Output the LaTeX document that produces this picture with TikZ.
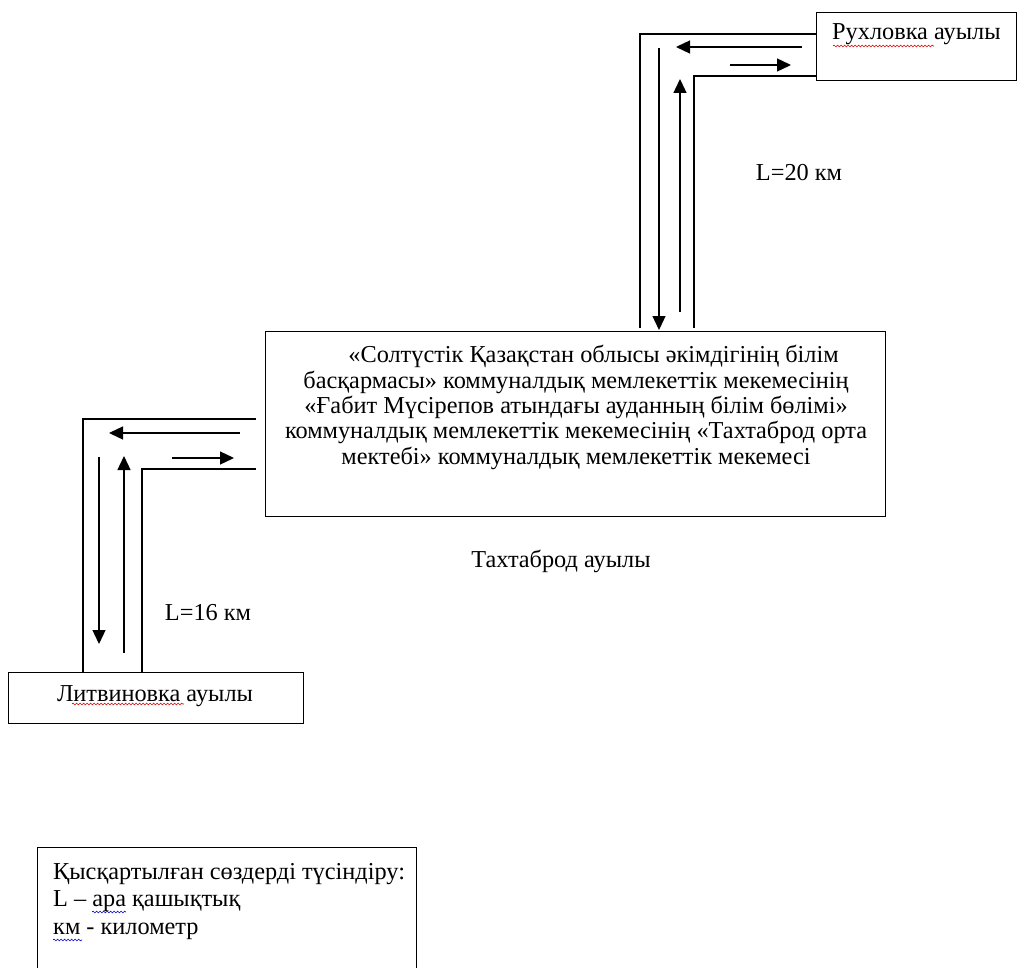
\documentclass[tikz,border=0pt]{standalone}
\usepackage{fontspec}
\setmainfont{Liberation Serif}
\usetikzlibrary{arrows.meta,decorations.pathmorphing}
\begin{document}
\begin{tikzpicture}[x=1pt,y=-1pt,
  every node/.style={font=\fontsize{24.3}{25.3}\selectfont},
  boxframe/.style={draw, line width=1.3pt, inner sep=0pt, anchor=north west},
  road/.style={line width=1.3pt},
  dir/.style={line width=1.3pt, -{Triangle[length=14pt,width=13pt]}},
  spellred/.style={red!85!black, line width=0.6pt, decorate, decoration={snake, segment length=3.5pt, amplitude=0.9pt}},
  spellblue/.style={blue!80!black, line width=0.6pt, decorate, decoration={snake, segment length=3.5pt, amplitude=0.9pt}}]
\clip (0,0) rectangle (1017,968);
\fill[white] (0,0) rectangle (1017,968);
% boxes
\node[boxframe, minimum width=199.5pt, minimum height=68pt] (rukh) at (816,12) {};
\node[anchor=base west, inner sep=0pt] (rukhtext) at (832,40) {Рухловка ауылы};
\node[boxframe, minimum width=620pt, minimum height=185pt] (school) at (265,331) {};
\node[align=center, inner sep=0pt] (schooltext) at (576,407.5) {\hspace*{35pt}«Солтүстік Қазақстан облысы әкімдігінің білім\\
басқармасы» коммуналдық мемлекеттік мекемесінің\\
«Ғабит Мүсірепов атындағы ауданның білім бөлімі»\\
коммуналдық мемлекеттік мекемесінің «Тахтаброд орта\\
мектебі» коммуналдық мемлекеттік мекемесі};
\node[inner sep=0pt] (tahta) at (561,561) {Тахтаброд ауылы};
\node[boxframe, minimum width=295pt, minimum height=51pt] (litv) at (8,672) {};
\node[inner sep=0pt] (litvtext) at (155,696) {Литвиновка ауылы};
\node[inner sep=0pt] (l20) at (799,173) {L=20 км};
\node[inner sep=0pt] (l16) at (208,613) {L=16 км};
\node[boxframe, minimum width=379pt, minimum height=160pt] (legend) at (37,847) {};
\node[align=left, anchor=north west, inner sep=0pt, font=\fontsize{24.3}{27.5}\selectfont] (legendtext) at (53,863) {Қысқартылған сөздерді түсіндіру:\\
L – ара қашықтық\\
км - километр};
% top-right road
\coordinate (r1) at (816,34);
\coordinate (r2) at (640,34);
\coordinate (r3) at (640,328);
\coordinate (r4) at (816,76);
\coordinate (r5) at (694,76);
\coordinate (r6) at (694,328);
\draw[road] (r1) -- (r2) -- (r3);
\draw[road] (r4) -- (r5) -- (r6);
\coordinate (ra1) at (802,47); \coordinate (ra2) at (676,47);
\coordinate (ra3) at (730,65); \coordinate (ra4) at (791,65);
\coordinate (ra5) at (659,48); \coordinate (ra6) at (659,330);
\coordinate (ra7) at (680,312); \coordinate (ra8) at (680,79);
\draw[dir] (ra1) -- (ra2);
\draw[dir] (ra3) -- (ra4);
\draw[dir] (ra5) -- (ra6);
\draw[dir] (ra7) -- (ra8);
% left road
\coordinate (q1) at (256,419);
\coordinate (q2) at (83,419);
\coordinate (q3) at (83,672);
\coordinate (q4) at (256,469);
\coordinate (q5) at (142,469);
\coordinate (q6) at (142,672);
\draw[road] (q1) -- (q2) -- (q3);
\draw[road] (q4) -- (q5) -- (q6);
\coordinate (qa1) at (240,433); \coordinate (qa2) at (109,433);
\coordinate (qa3) at (172,458); \coordinate (qa4) at (234,458);
\coordinate (qa5) at (99,457); \coordinate (qa6) at (99,644);
\coordinate (qa7) at (124,653); \coordinate (qa8) at (124,456);
\draw[dir] (qa1) -- (qa2);
\draw[dir] (qa3) -- (qa4);
\draw[dir] (qa5) -- (qa6);
\draw[dir] (qa7) -- (qa8);
% spell-check underlines
\draw[spellred] (833,46) -- (934,46);
\draw[spellred] (72,704) -- (184,704);
\draw[spellblue] (92,912) -- (126,912);
\draw[spellblue] (53,940) -- (82,940);
\end{tikzpicture}
\end{document}
